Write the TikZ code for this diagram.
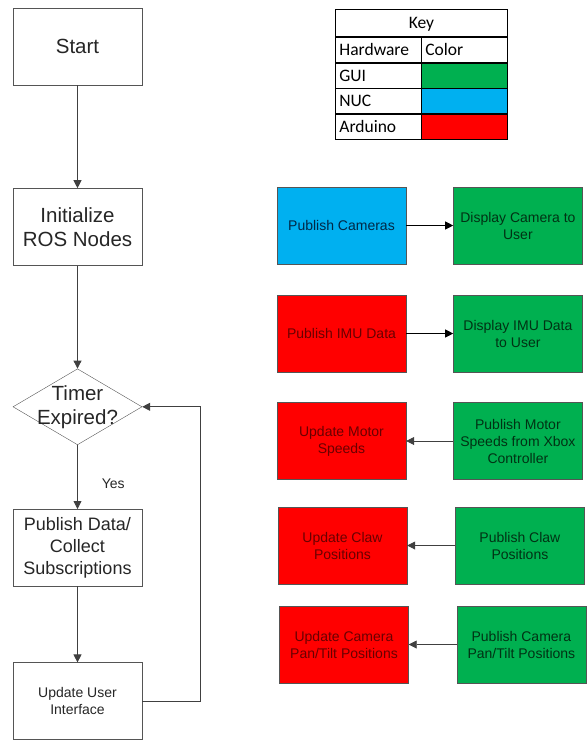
\documentclass[tikz,border=0pt]{standalone}
\usepackage{fontspec}
\setmainfont{Liberation Sans}
\newfontfamily\keyfont{Carlito}
\usetikzlibrary{arrows.meta,positioning,shapes.geometric}
\definecolor{guigreen}{RGB}{0,176,80}
\definecolor{nucblue}{RGB}{0,176,240}
\definecolor{arduinored}{RGB}{255,0,0}
\definecolor{guitext}{RGB}{0,50,20}
\definecolor{nuctext}{RGB}{0,40,70}
\definecolor{arduinotext}{RGB}{105,0,0}
\definecolor{edgegray}{RGB}{85,85,85}

\begin{document}
\begin{tikzpicture}[x=1pt,y=1pt,>={Triangle[length=8pt,width=8pt]},
  flowbox/.style={draw=edgegray,fill=white,minimum width=129pt,minimum height=77pt,align=center,text=black!85},
  hwbox/.style={draw=edgegray,minimum width=129pt,minimum height=77pt,align=center,font=\fontsize{14}{17}\selectfont},
  keycell/.style={draw,line width=0.8pt,text width=78pt,inner xsep=4pt,inner ysep=0pt,minimum height=25pt,text height=13pt,text depth=2pt,align=left,font=\keyfont\fontsize{17.5}{20}\selectfont},
  link/.style={->,draw=black!75,line width=0.8pt}]
\useasboundingbox (0,0) rectangle (588,-740);

% flowchart
\node[flowbox,font=\fontsize{20.5}{24}\selectfont] (start) at (77.5,-46.5) {Start};
\node[flowbox,font=\fontsize{20.5}{24}\selectfont,below=103pt of start] (init) {Initialize\\ROS Nodes};
\node[draw=edgegray,diamond,minimum width=129pt,minimum height=76pt,inner sep=0pt,below=103pt of init,
  label={[align=center,text=black!85,font=\fontsize{20.5}{24}\selectfont]center:Timer\\Expired?}] (timer) {};
\node[flowbox,font=\fontsize{18}{22}\selectfont,below=64pt of timer] (pub) {Publish Data/\\Collect\\Subscriptions};
\node[flowbox,font=\fontsize{14}{17}\selectfont,below=76pt of pub] (ui) {Update User\\Interface};

\draw[link] (start) -- (init);
\draw[link] (init) -- (timer);
\draw[link] (timer) -- node[pos=0.6,right=24pt,inner sep=0pt,text=black!85,font=\fontsize{14}{17}\selectfont] (yes) {Yes} (pub);
\draw[link] (pub) -- (ui);
\draw[link] (ui.east) -- ++(58,0) |- (timer.east);

% hardware pairs
\node[hwbox,fill=nucblue,text=nuctext] (cams) at (341.5,-225.5) {Publish Cameras};
\node[hwbox,fill=guigreen,text=guitext,right=47pt of cams] (showcams) {Display Camera to\\User};
\node[hwbox,fill=arduinored,text=arduinotext] (imu) at (341.5,-333.5) {Publish IMU Data};
\node[hwbox,fill=guigreen,text=guitext,right=47pt of imu] (showimu) {Display IMU Data\\to User};
\node[hwbox,fill=arduinored,text=arduinotext] (motors) at (341.5,-441) {Update Motor\\Speeds};
\node[hwbox,fill=guigreen,text=guitext,right=47pt of motors] (xbox) {Publish Motor\\Speeds from Xbox\\Controller};
\node[hwbox,fill=arduinored,text=arduinotext] (claw) at (342.5,-545.5) {Update Claw\\Positions};
\node[hwbox,fill=guigreen,text=guitext,right=48pt of claw] (pubclaw) {Publish Claw\\Positions};
\node[hwbox,fill=arduinored,text=arduinotext] (pantilt) at (344,-644.5) {Update Camera\\Pan/Tilt Positions};
\node[hwbox,fill=guigreen,text=guitext,right=48pt of pantilt] (pubpantilt) {Publish Camera\\Pan/Tilt Positions};

\draw[link,draw=black] (cams) -- (showcams);
\draw[link,draw=black] (imu) -- (showimu);
\draw[link] (xbox) -- (motors);
\draw[link] (pubclaw) -- (claw);
\draw[link] (pubpantilt) -- (pantilt);

% key table
\node[keycell,text width=164pt,align=center,minimum height=27pt,anchor=north west] (keyhead) at (335,-9) {Key};
\node[keycell,anchor=north west] (hwhead) at (keyhead.south west) {Hardware};
\node[keycell,anchor=north east] (colhead) at (keyhead.south east) {Color};
\node[keycell,below=0pt of hwhead] (gui) {GUI};
\node[keycell,fill=guigreen,below=0pt of colhead] (guicolor) {};
\node[keycell,below=0pt of gui] (nuc) {NUC};
\node[keycell,fill=nucblue,below=0pt of guicolor] (nuccolor) {};
\node[keycell,below=0pt of nuc] (arduino) {Arduino};
\node[keycell,fill=arduinored,below=0pt of nuccolor] (arduinocolor) {};
\end{tikzpicture}
\end{document}
